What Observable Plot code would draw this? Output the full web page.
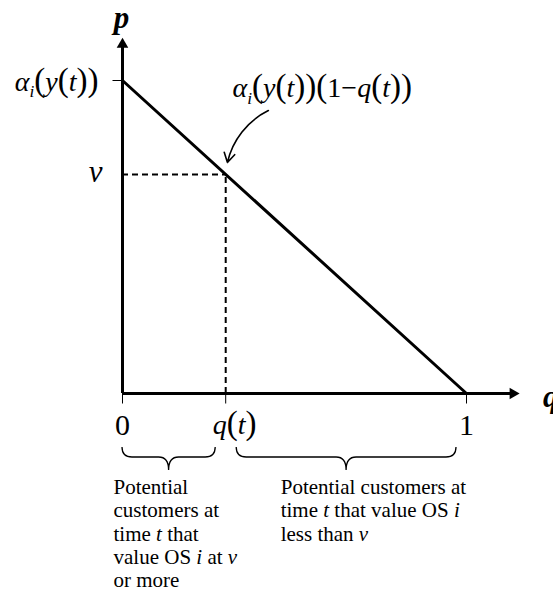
<!DOCTYPE html>
<html><head><meta charset="utf-8">
<script src="https://cdn.jsdelivr.net/npm/d3@7"></script>
<script src="https://cdn.jsdelivr.net/npm/@observablehq/plot@0.6"></script>
<style>body{margin:0;background:#fff}</style>
</head><body><div id="chart"></div>
<script>
// ---- data (in units of q and p, with p = 1 meaning alpha_i(y(t))) ----
const demandQ = [0, 1];
const demandP = [1, 0];
const qAtV = 0.3;
const vLevel = 0.7;
const qAxisEnd = 1.135;
const pAxisEnd = 1.115;
const qTicks = [0, qAtV, 1];
const qTickLabels = ["0", "$q(t)", "1"];
const pTickValues = [1, vLevel];
const pTickLabels = ["$α_i(y(t))", "$v"];
const annotationText = ["$α_i(y(t))(1−q(t))"];
const annotationQ = [0.32];
const annotationP = [0.946];
const arrowFromQ = [0.424];
const arrowFromP = [0.904];
const braceFrom = [0, qAtV];
const braceTo = [qAtV, 1];
const braceNotes = [
  "Potential\ncustomers at\ntime *t* that\nvalue OS *i* at *v*\nor more",
  "Potential customers at\ntime *t* that value OS *i*\nless than *v*"
];

const serif = "'Liberation Serif', 'Times New Roman', serif";
const demand = demandQ.map((q, i) => ({q, p: demandP[i]}));
const annotations = annotationText.map((t, i) => ({t, q: annotationQ[i], p: annotationP[i], fq: arrowFromQ[i], fp: arrowFromP[i]}));
const braces = braceFrom.map((a, i) => ({a, b: braceTo[i], note: braceNotes[i]}));

const rightTri = {draw(ctx, size) {
  const y = -Math.sqrt(size / (3 * Math.sqrt(3)));
  ctx.moveTo(-2 * y, 0); ctx.lineTo(y, Math.sqrt(3) * y); ctx.lineTo(y, -Math.sqrt(3) * y); ctx.closePath();
}};
const tickDown = {draw(ctx) { ctx.moveTo(0, 0); ctx.lineTo(0, 10); }};
const tickLeft = {draw(ctx) { ctx.moveTo(0, 0); ctx.lineTo(-10, 0); }};

function braceMark(index, scales) {
  const g = d3.create("svg:g");
  const y0 = scales.y(0) + 54;
  braces.forEach((br, i) => {
    const x1 = scales.x(br.a) + (i === 0 ? 0 : 11);
    const x2 = scales.x(br.b) - 10;
    const xm = (x1 + x2) / 2;
    const h = 10, r = 10, tip = 23;
    const d = `M${x1},${y0} Q${x1},${y0 + h} ${x1 + r},${y0 + h} L${xm - r},${y0 + h} Q${xm},${y0 + h} ${xm},${y0 + tip} Q${xm},${y0 + h} ${xm + r},${y0 + h} L${x2 - r},${y0 + h} Q${x2},${y0 + h} ${x2},${y0}`;
    g.append("path").attr("d", d).attr("fill", "none").attr("stroke", "black").attr("stroke-width", 1.3);
  });
  return g.node();
}

const noteStyle = {x: "a", y: 0, text: "note", fontSize: 21, lineHeight: 1.11, textAnchor: "start", lineAnchor: "top", dy: 84};

const svg = Plot.plot({
  width: 553, height: 595,
  marginLeft: 122, marginRight: 87, marginTop: 80, marginBottom: 202,
  x: {domain: [0, 1], axis: null},
  y: {domain: [0, 1], axis: null},
  style: {fontFamily: serif, background: "#fff", color: "#000", overflow: "visible"},
  marks: [
    Plot.ruleY([vLevel], {x1: 0, x2: qAtV, stroke: "black", strokeWidth: 2, strokeDasharray: "6,4"}),
    Plot.ruleX([qAtV], {y1: 0, y2: vLevel, stroke: "black", strokeWidth: 2, strokeDasharray: "6,4"}),
    Plot.line(demand, {x: "q", y: "p", stroke: "black", strokeWidth: 3}),
    Plot.ruleY([0], {x1: 0, x2: qAxisEnd, stroke: "black", strokeWidth: 3}),
    Plot.ruleX([0], {y1: 0, y2: pAxisEnd, stroke: "black", strokeWidth: 3}),
    Plot.dot([0], {x: qAxisEnd, y: 0, symbol: rightTri, r: 4.3, fill: "black", stroke: null}),
    Plot.dot([0], {x: 0, y: pAxisEnd, symbol: "triangle", r: 4.3, fill: "black", stroke: null}),
    Plot.dot(qTicks, {x: d => d, y: 0, symbol: tickDown, stroke: "black", strokeWidth: 1, fill: "none"}),
    Plot.dot([1], {x: 0, y: d => d, symbol: tickLeft, stroke: "black", strokeWidth: 1, fill: "none"}),
    Plot.text(["p"], {x: 0, y: pAxisEnd, text: d => d, fontSize: 31, fontWeight: "bold", fontStyle: "italic", textAnchor: "middle", lineAnchor: "bottom", dy: -17, dx: -1}),
    Plot.text(["q"], {x: qAxisEnd, y: 0, text: d => d, fontSize: 31, fontWeight: "bold", fontStyle: "italic", textAnchor: "start", lineAnchor: "bottom", dy: 13, dx: 30}),
    Plot.text(qTicks.filter(d => d !== qAtV), {x: d => d, y: 0, text: d => qTickLabels[qTicks.indexOf(d)], fontSize: 30, textAnchor: "middle", lineAnchor: "bottom", dy: 41}),
    Plot.text([qAtV], {x: d => d, y: 0, text: d => qTickLabels[qTicks.indexOf(d)], fontSize: 28, textAnchor: "start", lineAnchor: "bottom", dy: 40, dx: -13}),
    Plot.text([pTickValues[0]], {x: 0, y: d => d, text: () => pTickLabels[0], fontSize: 28, textAnchor: "end", lineAnchor: "bottom", dy: 10, dx: -24}),
    Plot.text([pTickValues[1]], {x: 0, y: d => d, text: () => pTickLabels[1], fontSize: 31, textAnchor: "end", lineAnchor: "bottom", dy: 8, dx: -20}),
    Plot.text(annotations, {x: "q", y: "p", text: "t", fontSize: 28, textAnchor: "start", lineAnchor: "bottom"}),
    Plot.arrow(annotations, {x1: "fq", y1: "fp", x2: () => qAtV, y2: () => vLevel, bend: -30, insetEnd: 12, stroke: "black", strokeWidth: 1.6, headLength: 10}),
    braceMark,
    Plot.text(braces.slice(0, 1), {...noteStyle, dx: -9}),
    Plot.text(braces.slice(1), {...noteStyle, dx: 55}),
  ]
});

document.getElementById("chart").append(svg);

const ns = "http://www.w3.org/2000/svg";
function mathify(el, s) {
  const fs = parseFloat(getComputedStyle(el).fontSize);
  el.textContent = "";
  const runs = [];
  for (let k = 0; k < s.length; k++) {
    const c = s[k];
    if (c === "_") { runs.push({t: s[++k], kind: "sub"}); continue; }
    const kind = /[()]/.test(c) ? "paren" : /[A-Za-z\u03b1-\u03c9]/.test(c) ? "ital" : "rom";
    const last = runs[runs.length - 1];
    if (last && last.kind === kind) last.t += c; else runs.push({t: c, kind});
  }
  let cur = 0;
  for (const r of runs) {
    const ts = document.createElementNS(ns, "tspan");
    ts.textContent = r.t;
    const target = r.kind === "sub" ? fs * 0.22 : 0;
    if (target !== cur) { ts.setAttribute("dy", target - cur); cur = target; }
    if (r.kind === "sub") { ts.setAttribute("font-size", fs * 0.62); ts.setAttribute("font-style", "italic"); }
    else if (r.kind === "paren") { ts.setAttribute("font-size", fs * 1.18); ts.setAttribute("font-style", "normal"); }
    else if (r.kind === "ital") ts.setAttribute("font-style", "italic");
    else ts.setAttribute("font-style", "normal");
    el.append(ts);
  }
}
function italicize(el, s) {
  el.textContent = "";
  s.split("*").forEach((part, i) => {
    if (!part) return;
    const ts = document.createElementNS(ns, "tspan");
    ts.textContent = part;
    if (i % 2) ts.setAttribute("font-style", "italic");
    el.append(ts);
  });
}
svg.querySelectorAll("text").forEach(t => {
  const kids = Array.from(t.querySelectorAll("tspan"));
  const leaves = kids.length ? kids : [t];
  leaves.forEach(el => {
    const s = el.textContent;
    if (s.startsWith("$")) mathify(el, s.slice(1));
    else if (s.includes("*")) italicize(el, s);
  });
});
</script>
</body></html>
